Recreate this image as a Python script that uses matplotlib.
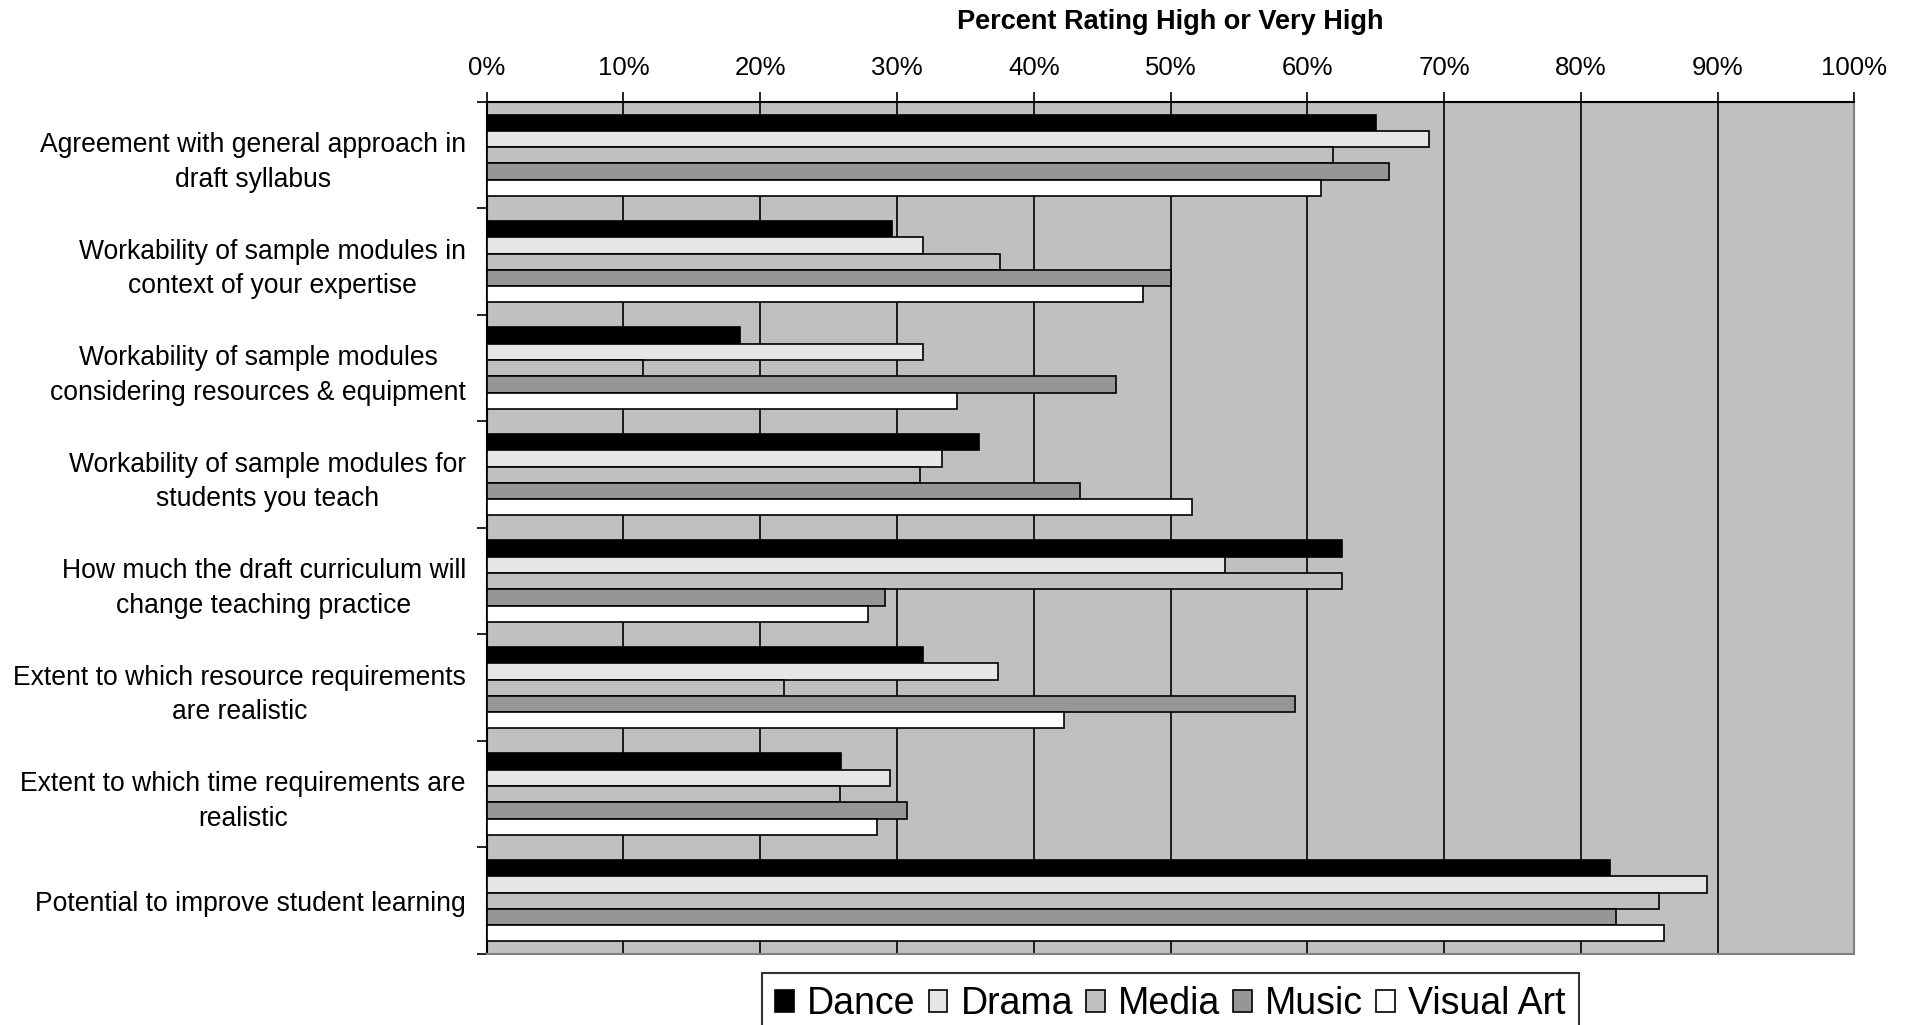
import numpy as np
import matplotlib
matplotlib.use("Agg")
import matplotlib.pyplot as plt

plt.rcParams['font.family'] = ['Liberation Sans', 'DejaVu Sans']

categories = [
    "Agreement with general approach in\ndraft syllabus",
    "Workability of sample modules in\ncontext of your expertise",
    "Workability of sample modules\nconsidering resources & equipment",
    "Workability of sample modules for\nstudents you teach",
    "How much the draft curriculum will\nchange teaching practice",
    "Extent to which resource requirements\nare realistic",
    "Extent to which time requirements are\nrealistic",
    "Potential to improve student learning",
]
series_names = ["Dance", "Drama", "Media", "Music", "Visual Art"]
dance = [65.0, 29.6, 18.5, 36.0, 62.5, 31.9, 25.9, 82.1]
drama = [68.9, 31.9, 31.9, 33.3, 54.0, 37.4, 29.5, 89.2]
media = [61.9, 37.5, 11.4, 31.7, 62.5, 21.7, 25.8, 85.7]
music = [66.0, 50.0, 46.0, 43.4, 29.1, 59.1, 30.7, 82.6]
visual_art = [61.0, 48.0, 34.4, 51.6, 27.9, 42.2, 28.5, 86.1]
x_ticks = list(range(0, 101, 10))

colors = ["#000000", "#e6e6e6", "#c0c0c0", "#969696", "#ffffff"]

fig = plt.figure(figsize=(19.08, 10.25), dpi=100)
ax = fig.add_axes([0.2551, 0.0693, 0.7168, 0.8312])
ax.set_facecolor("#c0c0c0")

y = np.arange(len(categories))
bar_h = 0.153
for j, (name, vals) in enumerate(zip(series_names, [dance, drama, media, music, visual_art])):
    ax.barh(y + (j - 2) * bar_h, vals, height=bar_h, color=colors[j],
            edgecolor="black", linewidth=1.2, label=name, zorder=3)

ax.set_xlim(0, 100)
ax.set_ylim(len(categories) - 0.5, -0.5)

# x axis on top
ax.xaxis.tick_top()
ax.set_xticks(x_ticks)
ax.set_xticklabels([f"{t}%" for t in x_ticks])
ax.tick_params(axis="x", direction="out", length=7, width=1.2, pad=8.5, labelsize=18.5)
ax.grid(axis="x", color="black", linewidth=1.2, zorder=1)
ax.set_axisbelow(True)

# y axis: labels in the middle, ticks between the groups
ax.set_yticks(y)
ax.set_yticklabels(categories)
ax.set_yticks(np.arange(len(categories) + 1) - 0.5, minor=True)
ax.tick_params(axis="y", which="major", length=0, pad=15, labelsize=19.1)
ax.tick_params(axis="y", which="minor", direction="out", length=7, width=1.2)
for lbl in ax.get_yticklabels():
    lbl.set_multialignment("center")
    lbl.set_linespacing(1.42)

for side in ["top", "left"]:
    ax.spines[side].set_color("black")
    ax.spines[side].set_linewidth(1.5)
for side in ["right", "bottom"]:
    ax.spines[side].set_color("#808080")
    ax.spines[side].set_linewidth(1.5)

fig.text(0.6135, 0.9785, "Percent Rating High or Very High", ha="center", va="center",
         fontsize=19.5, fontweight="bold")

leg = fig.legend(loc="upper center", bbox_to_anchor=(0.6135, 0.0507), ncol=5,
                 fontsize=27, frameon=True, fancybox=False, shadow=False,
                 handlelength=0.5, handleheight=0.5, handletextpad=0.35,
                 columnspacing=0.35, borderpad=0.35, borderaxespad=0)
leg.get_frame().set_edgecolor("black")
leg.get_frame().set_linewidth(1.5)

fig.savefig("out.png", dpi=100)
